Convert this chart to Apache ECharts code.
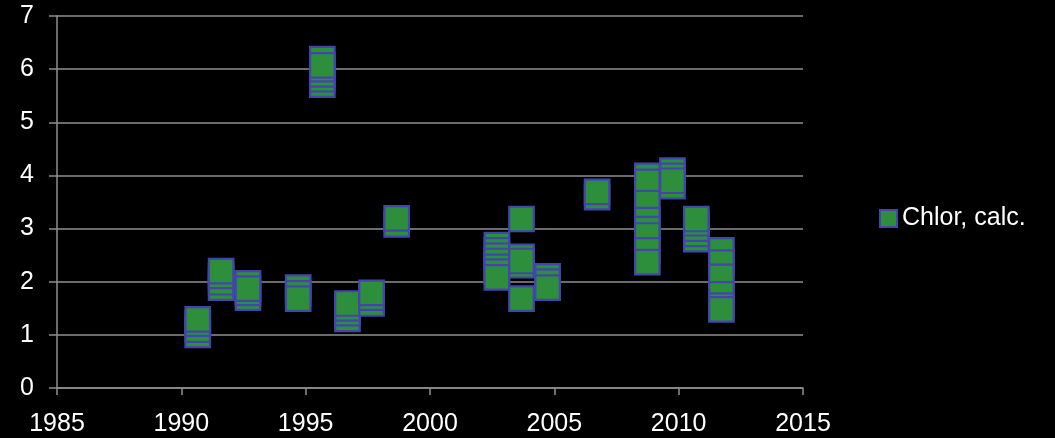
<!DOCTYPE html>
<html>
<head>
<meta charset="utf-8">
<script src="https://cdn.jsdelivr.net/npm/echarts@6/dist/echarts.min.js"></script>
<style>
  html, body { margin: 0; padding: 0; background: #000; }
  #chart { width: 1055px; height: 438px; }
</style>
</head>
<body>
<div id="chart"></div>
<script>
// Sampling dates (decimal years) and the calculated chlorophyll readings at each.
// Readings are listed in drawing order: later ones sit on top of earlier ones.
const sampleYears = [1990.66, 1991.6, 1992.68, 1994.7, 1995.67, 1996.68, 1997.65, 1998.66,
                     2002.69, 2003.68, 2004.73, 2006.72, 2008.74, 2009.75, 2010.71, 2011.72];
const chlorValues = [
  [1.00, 1.10, 1.21, 1.29],
  [1.89, 1.99, 2.11, 2.20],
  [1.97, 1.70, 1.79, 1.87],
  [1.89, 1.78, 1.68],
  [6.19, 5.71, 5.81, 5.90, 6.00, 6.07],
  [1.30, 1.41, 1.50, 1.59],
  [1.59, 1.70, 1.79],
  [3.08, 3.19],
  [2.69, 2.59, 2.49, 2.39, 2.28, 2.19, 2.08],
  [2.47, 2.31, 2.39, 1.68, 3.18],
  [2.10, 2.00, 1.89],
  [3.59, 3.69],
  [3.99, 3.88, 3.48, 3.16, 2.99, 2.87, 2.59, 2.37],
  [4.09, 3.99, 3.80, 3.90],
  [2.80, 2.90, 3.00, 3.10, 3.18],
  [2.59, 2.36, 2.09, 1.76, 1.55, 1.48]
];
const seriesName = 'Chlor, calc.';
const xTicks = { min: 1985, max: 2015, step: 5 };
const yTicks = { min: 0, max: 7, step: 1 };

const points = [];
sampleYears.forEach((yr, i) => {
  chlorValues[i].forEach(v => points.push([yr, v]));
});

const FONT = "'Liberation Sans', Arial, sans-serif";
const GRID_GRAY = '#8f8f8f';

const chart = echarts.init(document.getElementById('chart'), null, { renderer: 'canvas' });
chart.setOption({
  backgroundColor: '#000000',
  animation: false,
  grid: { left: 57, right: 252, top: 16, bottom: 50, containLabel: false },
  legend: {
    show: true,
    left: 874,
    top: 201,
    orient: 'vertical',
    itemWidth: 17,
    itemHeight: 17,
    icon: 'rect',
    textStyle: { color: '#ffffff', fontSize: 25, fontFamily: FONT },
    data: [seriesName]
  },
  xAxis: {
    type: 'value',
    min: xTicks.min, max: xTicks.max, interval: xTicks.step,
    axisLine: { show: true, onZero: false, lineStyle: { color: GRID_GRAY, width: 1.5 } },
    axisTick: { show: true, inside: false, length: 7, lineStyle: { color: GRID_GRAY, width: 1.5 } },
    splitLine: { show: false },
    axisLabel: { color: '#ffffff', fontSize: 25, fontFamily: FONT, margin: 24, formatter: v => String(v) }
  },
  yAxis: {
    type: 'value',
    min: yTicks.min, max: yTicks.max, interval: yTicks.step,
    axisLine: { show: true, lineStyle: { color: GRID_GRAY, width: 1.5 } },
    axisTick: { show: true, inside: false, length: 8, lineStyle: { color: GRID_GRAY, width: 1.5 } },
    splitLine: { show: true, lineStyle: { color: GRID_GRAY, width: 1.5 } },
    axisLabel: { color: '#ffffff', fontSize: 25, fontFamily: FONT, margin: 23, formatter: v => String(v) }
  },
  series: [{
    name: seriesName,
    type: 'scatter',
    symbol: 'rect',
    symbolSize: 24.5,
    itemStyle: { color: '#2d8f3c', borderColor: '#4345ad', borderWidth: 2.2, opacity: 1 },
    emphasis: { disabled: true },
    data: points
  }]
});
</script>
</body>
</html>
